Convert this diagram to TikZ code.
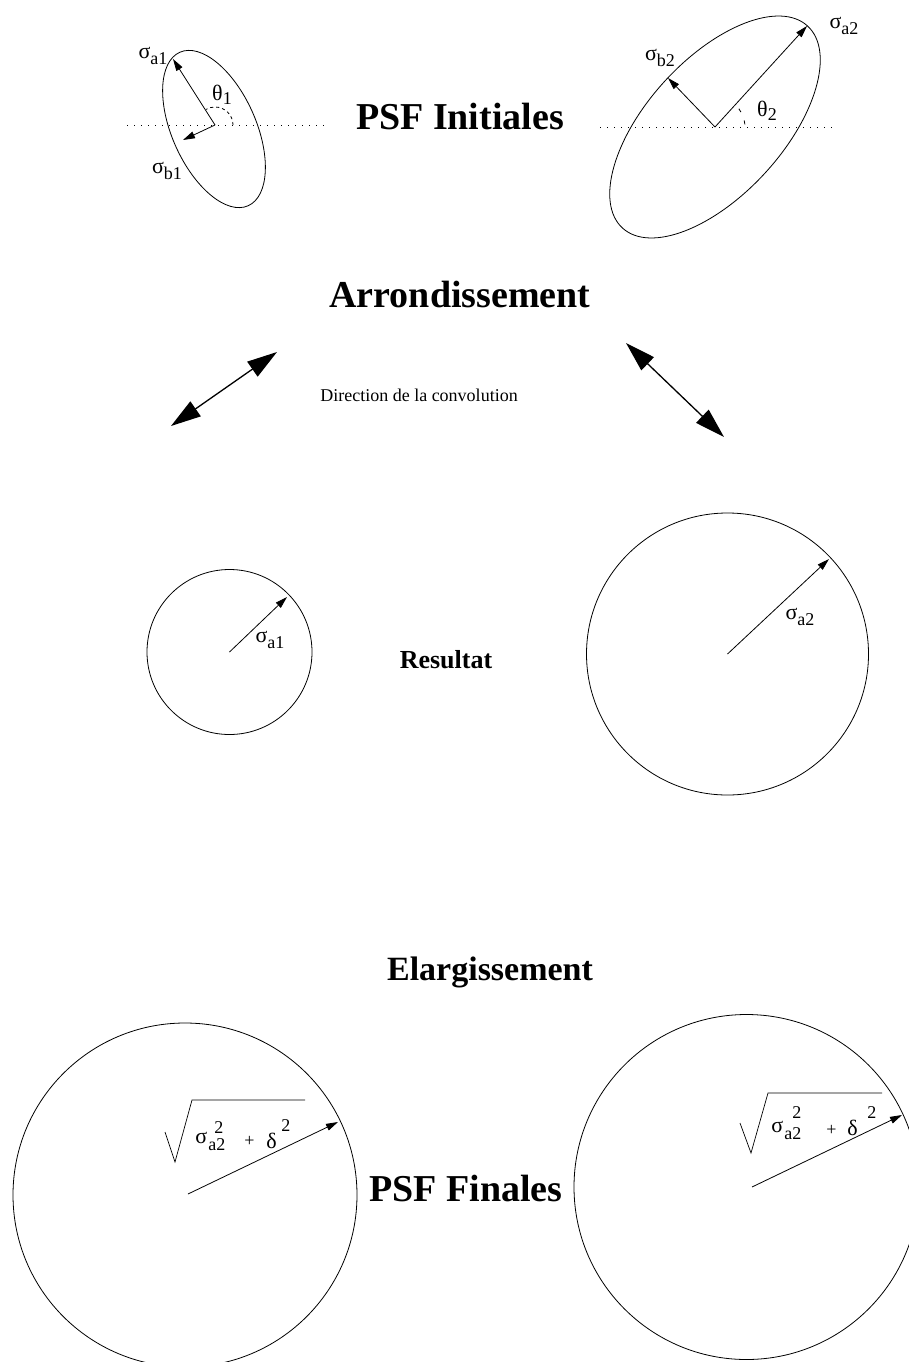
\documentclass[tikz,border=0pt]{standalone}
\usepackage{fontspec}
\setmainfont{Liberation Serif}
\usetikzlibrary{arrows.meta,calc}
\newcommand{\gk}[1]{{\fontsize{22}{22}\selectfont #1}}
\newcommand{\sublab}[3][6pt]{\gk{#2}\raisebox{-#1}{#3}}
\begin{document}
\begin{tikzpicture}[x=1pt,y=-1pt,line width=0.8pt,
  lbl/.style={font=\fontsize{18}{18}\selectfont,inner sep=0pt},
  piece/.style={font=\fontsize{18}{18}\selectfont,inner sep=0pt,anchor=base west},
  titlebig/.style={font=\fontsize{38}{38}\selectfont\bfseries,inner sep=0pt,anchor=base},
  vec/.style={-{Triangle[length=12pt,width=7pt]}},
  dbl/.style={line width=1.3pt,{Triangle[length=30pt,width=18pt]}-{Triangle[length=30pt,width=18pt]}},
  dotline/.style={dash pattern=on 1pt off 6pt},
  anglearc/.style={dash pattern=on 3pt off 3pt}]
\useasboundingbox (0,0) rectangle (909,1362);
\clip (0,0) rectangle (909,1362);

% ---- titles ----
\node[titlebig] (t1) at (460,130) {PSF Initiales};
\node[titlebig] (t2) at (460,307) {Arrondissement};
\node[font=\fontsize{18}{18}\selectfont,inner sep=0pt,anchor=base] (t3) at (419,401) {Direction de la convolution};
\node[font=\fontsize{26}{26}\selectfont\bfseries,inner sep=0pt,anchor=base] (t4) at (446,668) {Resultat};
\node[titlebig,font=\fontsize{34}{34}\selectfont\bfseries] (t5) at (490,980) {Elargissement};
\node[titlebig] (t6) at (466,1201) {PSF Finales};

% ---- ellipse 1 ----
\coordinate (o1) at (215,125);
\coordinate (a1) at (173,59);
\coordinate (b1) at (183,140);
\coordinate (d1a) at (127,125);
\coordinate (d1b) at (330,125);
\draw[rotate around={114:(214,129)}] (214,129) ellipse[x radius=84,y radius=42];
\draw[dotline] (d1a) -- (d1b);
\draw[vec] (o1) -- (a1);
\draw[vec] (o1) -- (b1);
\draw[anglearc] ($(o1)+(18,0)$) arc[start angle=0,end angle=-120,radius=18];
\node[lbl] (la1) at (153,56) {\sublab{σ}{a1}};
\node[lbl] (lb1) at (167,171) {\sublab{σ}{b1}};
\node[lbl] (lt1) at (222,95) {\sublab[4pt]{θ}{1}};

% ---- ellipse 2 ----
\coordinate (o2) at (715,127);
\coordinate (a2) at (807,26);
\coordinate (b2) at (668,78);
\coordinate (d2a) at (600,127);
\coordinate (d2b) at (832,127);
\draw[rotate around={47.5:(715,127)}] (715,127) ellipse[x radius=137,y radius=68];
\draw[dotline] (d2a) -- (d2b);
\draw[vec] (o2) -- (a2);
\draw[vec] (o2) -- (b2);
\draw[dash pattern=on 4pt off 9pt] ($(o2)+(-5:30)$) arc[start angle=-5,end angle=-47,radius=30];
\node[lbl] (la2) at (844,26) {\sublab{σ}{a2}};
\node[lbl] (lb2) at (660,58) {\sublab{σ}{b2}};
\node[lbl] (lt2) at (767,111) {\sublab[4pt]{θ}{2}};

% ---- convolution arrows ----
\coordinate (l1) at (171,426);
\coordinate (l2) at (277,352);
\coordinate (r1) at (626,343);
\coordinate (r2) at (724,437);
\draw[dbl] (l1) -- (l2);
\draw[dbl] (r1) -- (r2);

% ---- result circles ----
\coordinate (c1) at (229.5,652);
\coordinate (c1t) at (287,597);
\draw (c1) circle[radius=82.5];
\draw[vec] (c1) -- (c1t);
\node[lbl] (lc1) at (270,640) {\sublab{σ}{a1}};

\coordinate (c2) at (727.5,654);
\coordinate (c2t) at (829,559);
\draw (c2) circle[radius=141];
\draw[vec] (c2) -- (c2t);
\node[lbl] (lc2) at (800,617) {\sublab{σ}{a2}};

% ---- final circles ----
\coordinate (f1) at (185,1195);
\coordinate (f1s) at (188,1194);
\coordinate (f1t) at (338,1122);
\draw (f1) circle[radius=172];
\draw[vec] (f1s) -- (f1t);
\coordinate (q1a) at (165,1132);
\coordinate (q1b) at (175,1162);
\coordinate (q1c) at (192,1100);
\coordinate (q1d) at (305,1100);
\draw[line width=0.7pt] (q1a) -- (q1b) -- (q1c) -- (q1d);
\node[piece] (p1s) at (195,1143) {\gk{σ}};
\node[piece] (p1a) at (208,1150) {a2};
\node[piece] (p1e) at (214,1133) {2};
\node[piece] (p1p) at (244,1146) {+};
\node[piece] (p1d) at (266,1148) {\gk{δ}};
\node[piece] (p1f) at (281,1131) {2};

\coordinate (f2) at (746.5,1187);
\coordinate (f2s) at (752,1187);
\coordinate (f2t) at (902,1115);
\draw (f2) circle[radius=172.5];
\draw[vec] (f2s) -- (f2t);
\coordinate (q2a) at (740,1123);
\coordinate (q2b) at (751,1153);
\coordinate (q2c) at (768,1093);
\coordinate (q2d) at (882,1093);
\draw[line width=0.7pt] (q2a) -- (q2b) -- (q2c) -- (q2d);
\node[piece] (p2s) at (771,1132) {\gk{σ}};
\node[piece] (p2a) at (784,1139) {a2};
\node[piece] (p2e) at (792,1118) {2};
\node[piece] (p2p) at (826,1135) {+};
\node[piece] (p2d) at (847,1135) {\gk{δ}};
\node[piece] (p2f) at (867,1118) {2};
\end{tikzpicture}
\end{document}
